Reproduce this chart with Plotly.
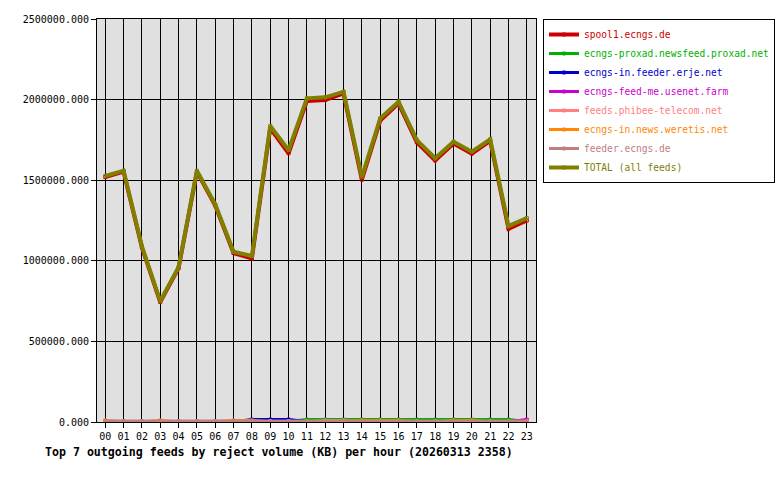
import plotly.graph_objects as go

hours = ["%02d" % h for h in range(24)]

spool1 = [1519000, 1553000, 1083000, 744000, 955000, 1552000, 1343000, 1048000,
          1015000, 1822000, 1667000, 1992000, 1998000, 2038000, 1503000, 1870000,
          1977000, 1735000, 1623000, 1727000, 1665000, 1744000, 1199000, 1250000]
proxad = [0, 0, 0, 0, 0, 0, 0, 0, 0, 0, 3000, 15000, 15000, 15000, 15000, 15000,
          15000, 15000, 15000, 15000, 15000, 15000, 15000, 3000]
erje = [0, 0, 0, 0, 0, 0, 0, 0, 15000, 15000, 15000, 3000, 3000, 3000, 3000, 3000,
        3000, 3000, 3000, 3000, 3000, 3000, 3000, 3000]
feedme = [0, 0, 0, 0, 0, 0, 0, 0, 0, 0, 0, 0, 0, 0, 0, 0,
          0, 0, 0, 0, 0, 0, 2000, 15000]
phibee = [2000, 2000, 2000, 2000, 2000, 2000, 2000, 2000, 2000, 2000, 2000, 2000, 10000, 10000, 2000, 2000,
          2000, 2000, 2000, 2000, 2000, 2000, 2000, 2000]
weretis = [10000, 2000, 2000, 10000, 2000, 2000, 2000, 10000, 10000, 2000, 2000, 2000, 2000, 2000, 10000, 10000,
           10000, 2000, 2000, 10000, 10000, 2000, 2000, 2000]
feeder = [6000, 6000, 6000, 6000, 6000, 6000, 6000, 6000, 6000, 6000, 6000, 6000, 6000, 6000, 6000, 6000,
          6000, 6000, 6000, 6000, 6000, 6000, 6000, 6000]
total = [1526000, 1559000, 1090000, 750000, 961000, 1559000, 1350000, 1056000,
         1030000, 1836000, 1687000, 2008000, 2014000, 2049000, 1521000, 1884000,
         1987000, 1749000, 1636000, 1739000, 1677000, 1754000, 1216000, 1265000]

series = [
    ("spool1.ecngs.de", spool1, "#cc0000", 4),
    ("ecngs-proxad.newsfeed.proxad.net", proxad, "#00b000", 3),
    ("ecngs-in.feeder.erje.net", erje, "#0000cc", 3),
    ("ecngs-feed-me.usenet.farm", feedme, "#cc00cc", 3),
    ("feeds.phibee-telecom.net", phibee, "#ff8080", 3),
    ("ecngs-in.news.weretis.net", weretis, "#ff8800", 3),
    ("feeder.ecngs.de", feeder, "#c08080", 3),
    ("TOTAL (all feeds)", total, "#808000", 4),
]

MONO = "DejaVu Sans Mono"

fig = go.Figure()
for name, vals, color, w in series:
    fig.add_trace(go.Scatter(
        x=hours, y=vals, mode="lines+markers",
        name='<span style="color:%s">%s</span>' % (color, name),
        line=dict(color=color, width=w),
        marker=dict(symbol="square-open", size=3, color=color, line=dict(width=1, color=color)),
    ))

fig.update_layout(
    width=780, height=480,
    margin=dict(l=97, r=244, t=19, b=58, autoexpand=False),
    paper_bgcolor="white",
    plot_bgcolor="#e0e0e0",
    font=dict(family=MONO, size=10, color="black"),
    showlegend=True,
    legend=dict(
        x=(543 - 97) / 439, y=1, xanchor="left", yanchor="top",
        bordercolor="black", borderwidth=1, bgcolor="white",
        font=dict(family=MONO, size=9.6),
        tracegroupgap=0,
    ),
    xaxis=dict(
        type="category", range=[-0.45, 23.5], automargin=False,
        showgrid=True, gridcolor="black", gridwidth=1,
        showline=True, linecolor="black", linewidth=1, mirror=True,
        ticks="outside", ticklen=5, tickcolor="black",
        tickfont=dict(family=MONO, size=10),
    ),
    yaxis=dict(
        range=[0, 2500000], dtick=500000, tickformat=".3f", automargin=False,
        showgrid=True, gridcolor="black", gridwidth=1, zeroline=False,
        showline=True, linecolor="black", linewidth=1, mirror=True,
        ticks="outside", ticklen=5, tickcolor="black",
        tickfont=dict(family=MONO, size=10),
    ),
    annotations=[dict(
        text="<b>Top 7 outgoing feeds by reject volume (KB) per hour (20260313 2358)</b>",
        xref="paper", yref="paper", x=(43 - 97) / 439, y=(422 - 452) / 403,
        xanchor="left", yanchor="middle", showarrow=False,
        font=dict(family=MONO, size=11.6, color="black"),
    )],
)

fig.write_html("out.html", config={"displayModeBar": False},
               post_script="document.body.style.margin='0';")
